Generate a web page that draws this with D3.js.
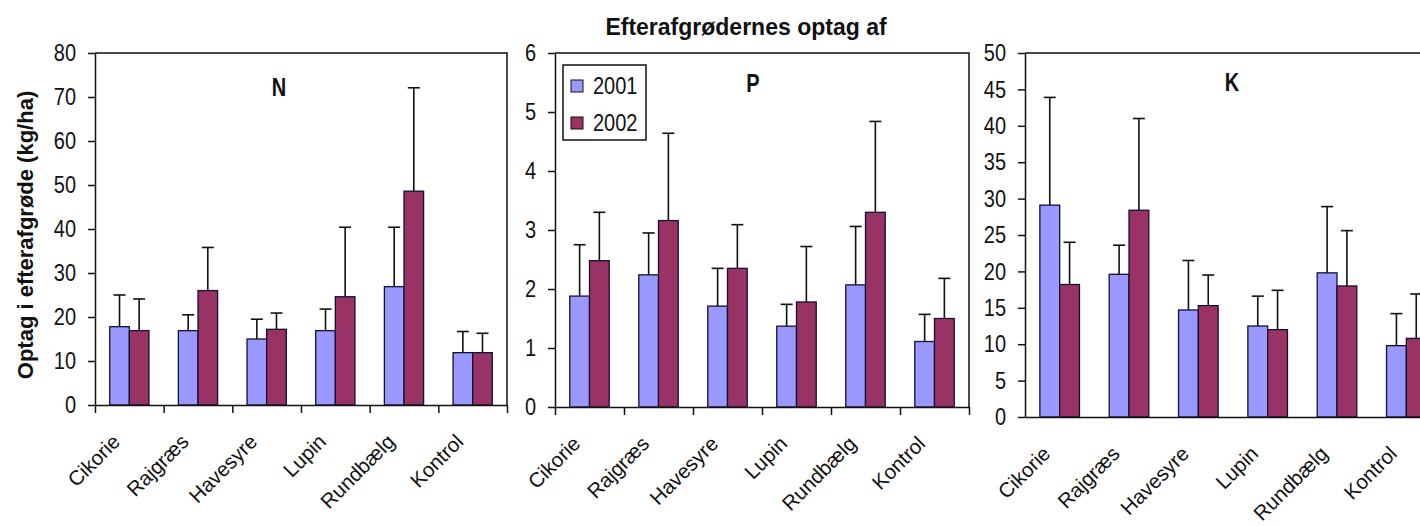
<!DOCTYPE html>
<html>
<head>
<meta charset="utf-8">
<script src="https://cdn.jsdelivr.net/npm/d3@7"></script>
<style>
  body { margin: 0; background: #fff; }
  svg { display: block; font-family: "Liberation Sans", Arial, sans-serif; }
</style>
</head>
<body>
<div id="chart"></div>
<script>
// categories and years
var categories = ["Cikorie", "Rajgræs", "Havesyre", "Lupin", "Rundbælg", "Kontrol"];
var years = ["2001", "2002"];

// N (kg/ha) - mean and upper error
var n2001 = [17.8, 16.9, 15.0, 16.9, 26.9, 11.9];
var n2001Err = [7.2, 3.6, 4.5, 4.9, 13.5, 4.8];
var n2002 = [16.9, 26.0, 17.2, 24.6, 48.6, 11.9];
var n2002Err = [7.2, 9.8, 3.7, 15.8, 23.5, 4.4];

// P
var p2001 = [1.88, 2.24, 1.71, 1.37, 2.07, 1.11];
var p2001Err = [0.87, 0.71, 0.64, 0.37, 0.99, 0.46];
var p2002 = [2.48, 3.16, 2.35, 1.78, 3.30, 1.50];
var p2002Err = [0.82, 1.48, 0.74, 0.94, 1.54, 0.68];

// K
var k2001 = [29.1, 19.6, 14.7, 12.5, 19.8, 9.8];
var k2001Err = [14.8, 4.0, 6.8, 4.1, 9.1, 4.4];
var k2002 = [18.2, 28.4, 15.3, 12.0, 18.0, 10.8];
var k2002Err = [5.8, 12.6, 4.2, 5.4, 7.6, 6.1];

var yTicksN = d3.range(0, 81, 10);
var yTicksP = d3.range(0, 7, 1);
var yTicksK = d3.range(0, 51, 5);

var title = "Efterafgrødernes optag af";
var yTitle = "Optag i efterafgrøde (kg/ha)";

var colors = { "2001": "#9999ff", "2002": "#993366" };
var W = 1420, H = 526, plotTop = 53;

var svg = d3.select("#chart").append("svg")
    .attr("width", W)
    .attr("height", H);

var panels = [
    { label: "N", v1: n2001, e1: n2001Err, v2: n2002, e2: n2002Err, ticks: yTicksN,
      left: 95, right: 507, bottom: 405, catTicks: true, labelX: 279, labelY: 96 },
    { label: "P", v1: p2001, e1: p2001Err, v2: p2002, e2: p2002Err, ticks: yTicksP,
      left: 555, right: 969, bottom: 407, catTicks: true, labelX: 753, labelY: 92 },
    { label: "K", v1: k2001, e1: k2001Err, v2: k2002, e2: k2002Err, ticks: yTicksK,
      left: 1025, right: 1441, bottom: 417, catTicks: false, labelX: 1232, labelY: 91 }
];

panels.forEach(drawPanel);

function drawPanel(p) {
    var x = d3.scaleBand().domain(categories).range([p.left, p.right])
        .paddingInner(1.5 / 3.5).paddingOuter(0.75 / 3.5);
    var xs = d3.scaleBand().domain(years).range([0, x.bandwidth()]);
    var y = d3.scaleLinear().domain([0, d3.max(p.ticks)]).range([p.bottom, plotTop]);
    var xb = d3.scaleLinear().domain([0, categories.length]).range([p.left, p.right]);

    var g = svg.append("g");

    // plot area frame (top + right)
    g.append("path")
        .attr("d", "M" + p.left + "," + plotTop + "H" + p.right + "V" + p.bottom)
        .attr("fill", "none")
        .attr("stroke", "#111")
        .attr("stroke-width", 1.5);

    var rows = categories.map(function(c, i) {
        return [
            { cat: c, year: "2001", v: p.v1[i], e: p.e1[i] },
            { cat: c, year: "2002", v: p.v2[i], e: p.e2[i] }
        ];
    });
    var flat = d3.merge(rows);

    g.selectAll("rect.bar").data(flat).join("rect")
        .attr("class", "bar")
        .attr("x", function(d) { return x(d.cat) + xs(d.year); })
        .attr("y", function(d) { return y(d.v); })
        .attr("width", xs.bandwidth())
        .attr("height", function(d) { return y(0) - y(d.v); })
        .attr("fill", function(d) { return colors[d.year]; })
        .attr("stroke", "#111133")
        .attr("stroke-width", 1.3);

    // error bars (upper only)
    var eb = g.selectAll("g.err").data(flat).join("g").attr("class", "err")
        .attr("stroke", "#111").attr("stroke-width", 1.6);
    eb.append("line")
        .attr("x1", function(d) { return x(d.cat) + xs(d.year) + xs.bandwidth() / 2; })
        .attr("x2", function(d) { return x(d.cat) + xs(d.year) + xs.bandwidth() / 2; })
        .attr("y1", function(d) { return y(d.v); })
        .attr("y2", function(d) { return y(d.v + d.e); });
    eb.append("line")
        .attr("x1", function(d) { return x(d.cat) + xs(d.year) + xs.bandwidth() / 2 - 6; })
        .attr("x2", function(d) { return x(d.cat) + xs(d.year) + xs.bandwidth() / 2 + 6; })
        .attr("y1", function(d) { return y(d.v + d.e); })
        .attr("y2", function(d) { return y(d.v + d.e); });

    // y axis
    var ya = g.append("g")
        .attr("transform", "translate(" + p.left + ",0)")
        .call(d3.axisLeft(y).tickValues(p.ticks).tickFormat(d3.format("d"))
            .tickSize(7).tickSizeOuter(0).tickPadding(12));
    ya.selectAll("path, line").attr("stroke", "#111").attr("stroke-width", 1.5);
    ya.selectAll("text")
        .attr("font-size", 20)
        .attr("font-family", "Liberation Sans, Arial, sans-serif")
        .attr("fill", "#111")
        .attr("transform", "scale(1,1.2)");

    // x axis with ticks at category boundaries
    var xa = g.append("g")
        .attr("transform", "translate(0," + p.bottom + ")")
        .call(d3.axisBottom(xb).ticks(categories.length).tickSize(p.catTicks ? 8 : 0)
            .tickSizeOuter(0).tickFormat(""));
    xa.selectAll("path, line").attr("stroke", "#111").attr("stroke-width", 1.5);

    g.selectAll("text.cat").data(categories).join("text")
        .attr("class", "cat")
        .attr("transform", function(d) {
            return "translate(" + (x(d) + x.bandwidth() / 2 - 8) + "," + (p.bottom + 38) + ") rotate(-45)";
        })
        .attr("text-anchor", "end")
        .attr("font-size", 20.5)
        .attr("fill", "#111")
        .text(function(d) { return d; });

    g.append("text")
        .attr("transform", "translate(" + p.labelX + "," + p.labelY + ") scale(1,1.25)")
        .attr("text-anchor", "middle")
        .attr("font-size", 20)
        .attr("font-weight", "bold")
        .attr("fill", "#111")
        .text(p.label);
}

// overall title
svg.append("text")
    .attr("x", 746)
    .attr("y", 35)
    .attr("text-anchor", "middle")
    .attr("font-size", 23)
    .attr("font-weight", "bold")
    .attr("fill", "#111")
    .text(title);

// y axis title
svg.append("text")
    .attr("transform", "translate(33,235) rotate(-90)")
    .attr("text-anchor", "middle")
    .attr("font-size", 22)
    .attr("font-weight", "bold")
    .attr("fill", "#111")
    .text(yTitle);

// legend (inside P panel)
var legend = svg.append("g").attr("transform", "translate(563,65)");
legend.append("rect")
    .attr("width", 83).attr("height", 75)
    .attr("fill", "#fff").attr("stroke", "#111").attr("stroke-width", 1.5);
var li = legend.selectAll("g.item").data(years).join("g")
    .attr("class", "item")
    .attr("transform", function(d, i) { return "translate(8," + (15 + i * 37) + ")"; });
li.append("rect")
    .attr("width", 12).attr("height", 12)
    .attr("fill", function(d) { return colors[d]; })
    .attr("stroke", "#111").attr("stroke-width", 1);
li.append("text")
    .attr("transform", "translate(22,13.5) scale(1,1.2)")
    .attr("font-size", 20)
    .attr("fill", "#111")
    .text(function(d) { return d; });
</script>
</body>
</html>
